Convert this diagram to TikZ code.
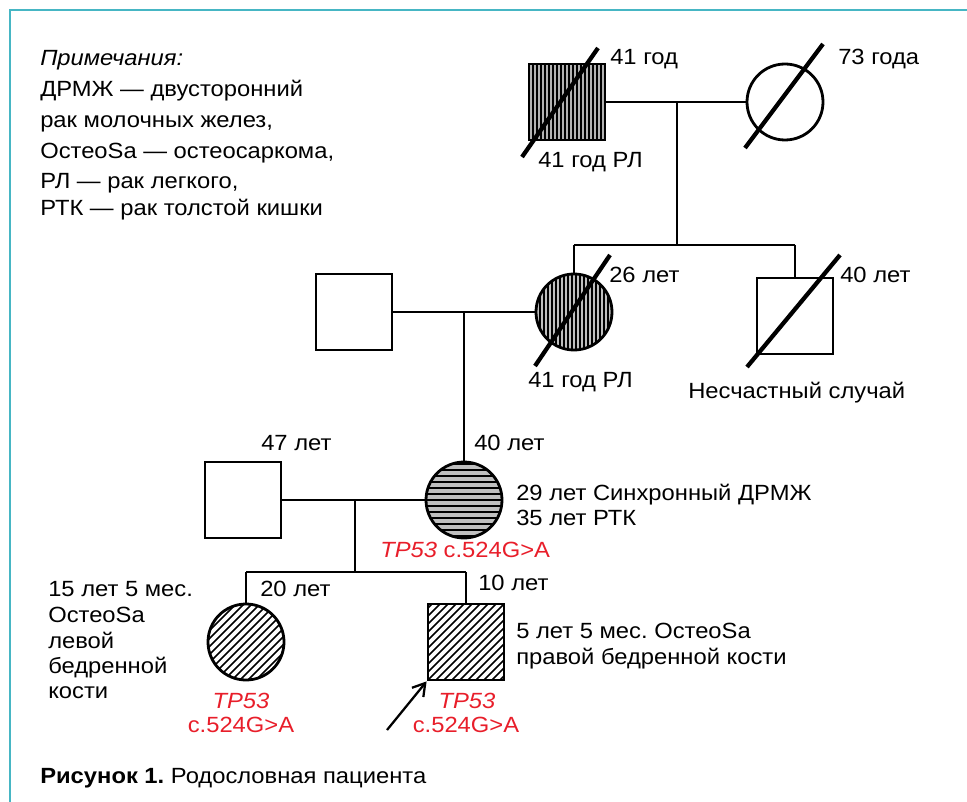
\documentclass[tikz,border=0pt]{standalone}
\usepackage{fontspec}
\setmainfont{Liberation Sans}[FakeStretch=1.08]
\usetikzlibrary{arrows.meta,calc}
\definecolor{framec}{RGB}{70,182,196}
\definecolor{mred}{RGB}{232,30,42}
\frenchspacing
\begin{document}
\begin{tikzpicture}[x=0.75pt,y=-0.75pt,
  shp/.style={draw, line width=2.1pt, inner sep=0pt},
  sq/.style={shp, rectangle, minimum size=57pt},
  circ/.style={shp, circle, minimum size=57pt},
  link/.style={line width=2pt},
  slash/.style={line width=3.2pt},
  hatch/.style={line width=#1},
  lbl/.style={font=\fontsize{16.5}{20}\selectfont, inner sep=0pt, anchor=base west},
  lblc/.style={lbl, anchor=base},
  red/.style={text=mred}
]
\useasboundingbox (0,0) rectangle (967,802);
% frame
\draw[framec, line width=1.6pt] (10,802) -- (10,10) -- (967,10);

% centres
\coordinate (cgf) at (567,102);
\coordinate (cm1) at (574,312);
\coordinate (cmo) at (464,500);
\coordinate (cd) at (246,642);
\coordinate (cs) at (466,642);

% hatching
\begin{scope}
  \clip ($(cgf)+(-38,-38)$) rectangle ($(cgf)+(38,38)$);
  \fill[gray!60] ($(cgf)+(-38,-38)$) rectangle ($(cgf)+(38,38)$);
  \foreach \i in {-38,-34,...,38} \draw[hatch=1.4pt] ($(cgf)+(\i,-40)$) -- ($(cgf)+(\i,40)$);
\end{scope}
\begin{scope}
  \clip (cm1) circle[radius=28.5pt];
  \fill[gray!50] (cm1) circle[radius=28.5pt];
  \foreach \i in {-38,-34,...,38} \draw[hatch=1.2pt] ($(cm1)+(\i,-40)$) -- ($(cm1)+(\i,40)$);
\end{scope}
\begin{scope}
  \clip (cmo) circle[radius=28.5pt];
  \fill[gray!50] (cmo) circle[radius=28.5pt];
  \foreach \i in {-36,-30,...,36} \draw[hatch=1.5pt] ($(cmo)+(-40,\i)$) -- ($(cmo)+(40,\i)$);
\end{scope}
\begin{scope}
  \clip (cd) circle[radius=28.5pt];
  \foreach \i in {-96,-88,...,96} \draw[hatch=1.3pt] ($(cd)+(\i-50,50)$) -- ($(cd)+(\i+50,-50)$);
\end{scope}
\begin{scope}
  \clip ($(cs)+(-38,-38)$) rectangle ($(cs)+(38,38)$);
  \foreach \i in {-96,-88,...,96} \draw[hatch=1.3pt] ($(cs)+(\i-50,50)$) -- ($(cs)+(\i+50,-50)$);
\end{scope}

% generation I
\node[sq] (gf) at (cgf) {};
\node[circ] (gm) at (785,102) {};
\draw[slash] ($(gf)+(-45,55)$) -- ($(gf)+(31,-54)$);
\draw[slash] ($(gm)+(-40,46)$) -- ($(gm)+(38,-58)$);
\draw[link] (gf.east) -- (gm.west);
\coordinate (j1) at (677,102);
\coordinate (j1b) at (677,245);
\draw[link] (j1) -- (j1b);

% generation II
\node[sq] (h1) at (354,312) {};
\node[circ] (m1) at (cm1) {};
\node[sq] (u1) at (795,316) {};
\draw[slash] ($(m1)+(-39,54)$) -- ($(m1)+(36,-57)$);
\draw[slash] ($(u1)+(-48,51)$) -- ($(u1)+(45,-61)$);
\draw[link] (m1.north |- j1b) -- (u1.north |- j1b);
\draw[link] (m1.north |- j1b) -- (m1.north);
\draw[link] (u1.north |- j1b) -- (u1.north);
\draw[link] (h1.east) -- (m1.west);
\coordinate (j2) at (464,312);

% generation III
\node[sq] (fa) at (243,500) {};
\node[circ] (mo) at (cmo) {};
\draw[link] (j2) -- (mo.north);
\draw[link] (fa.east) -- (mo.west);
\coordinate (j3) at (355,500);
\coordinate (j3b) at (355,572);
\draw[link] (j3) -- (j3b);

% generation IV
\node[circ] (d) at (cd) {};
\node[sq] (s) at (cs) {};
\draw[link] (d.north |- j3b) -- (s.north |- j3b);
\draw[link] (d.north |- j3b) -- (d.north);
\draw[link] (s.north |- j3b) -- (s.north);
\coordinate (arr) at (387,730);
\draw[line width=1.7pt, -{Straight Barb[length=9pt,width=11pt,line width=1.7pt]}] (arr) -- (s.south west);

% notes
\node[lbl] (n1) at (40,66) {\textit{Примечания:}};
\node[lbl] (n2) at (40,97) {ДРМЖ — двусторонний};
\node[lbl] (n3) at (40,128) {рак молочных желез,};
\node[lbl] (n4) at (40,159) {ОстеоSa — остеосаркома,};
\node[lbl] (n5) at (40,189) {РЛ — рак легкого,};
\node[lbl] (n6) at (40,216) {РТК — рак толстой кишки};

% labels
\node[lbl] (t1) at (610,65) {41 год};
\node[lbl] (t2) at (538,168) {41 год РЛ};
\node[lbl] (t3) at (838,65) {73 года};
\node[lbl] (t4) at (609,282) {26 лет};
\node[lbl] (t5) at (528,387) {41 год РЛ};
\node[lbl] (t6) at (840,282) {40 лет};
\node[lbl] (t7) at (688,398) {Несчастный случай};
\node[lbl] (t8) at (261,450) {47 лет};
\node[lbl] (t9) at (474,450) {40 лет};
\node[lbl] (t10) at (516,500) {29 лет Синхронный ДРМЖ};
\node[lbl] (t11) at (516,525) {35 лет РТК};
\node[lbl, red] (t12) at (380,557) {\textit{TP53} c.524G>A};
\node[lbl] (t13) at (48,596) {15 лет 5 мес.};
\node[lbl] (t14) at (48,622) {ОстеоSa};
\node[lbl] (t15) at (48,648) {левой};
\node[lbl] (t16) at (48,673) {бедренной};
\node[lbl] (t17) at (48,698) {кости};
\node[lbl] (t18) at (260,596) {20 лет};
\node[lbl] (t19) at (478,590) {10 лет};
\node[lbl] (t20) at (516,638) {5 лет 5 мес. ОстеоSa};
\node[lbl] (t21) at (516,664) {правой бедренной кости};
\node[lblc, red] (t22) at (241,708) {\textit{TP53}};
\node[lblc, red] (t23) at (241,732) {c.524G>A};
\node[lblc, red] (t24) at (467,708) {\textit{TP53}};
\node[lblc, red] (t25) at (466,732) {c.524G>A};
\node[lbl] (cap) at (40,783) {\textbf{Рисунок 1.} Родословная пациента};
\end{tikzpicture}
\end{document}
